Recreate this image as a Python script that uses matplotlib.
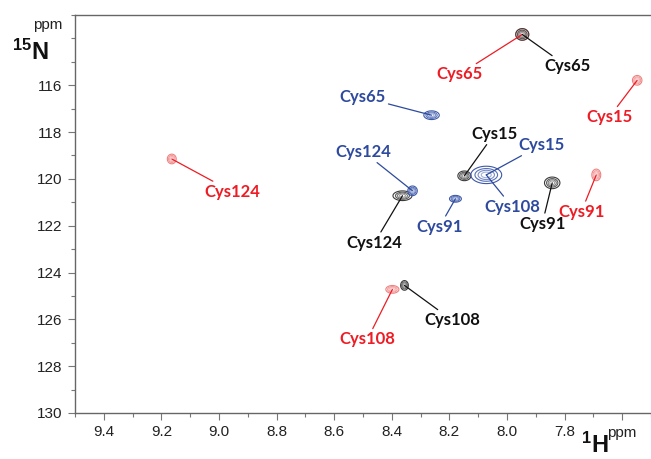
import numpy as np
import matplotlib
matplotlib.use("Agg")
import matplotlib.pyplot as plt

plt.rcParams["font.family"] = ["Liberation Sans", "DejaVu Sans"]
plt.rcParams["mathtext.fontset"] = "custom"
plt.rcParams["mathtext.bf"] = "Liberation Sans:bold"
plt.rcParams["mathtext.rm"] = "Liberation Sans"

# peak lists: 1H ppm, 15N ppm, half widths (ppm)
black_names = ["Cys65", "Cys15", "Cys124", "Cys91", "Cys108"]
black_h = [7.947, 8.148, 8.363, 7.843, 8.356]
black_n = [113.83, 119.87, 120.72, 120.17, 124.55]
black_wh = [0.011, 0.011, 0.016, 0.013, 0.0065]
black_wn = [0.12, 0.10, 0.10, 0.12, 0.10]

blue_names = ["Cys65", "Cys15", "Cys124", "Cys91", "Cys108"]
blue_h = [8.262, 8.072, 8.328, 8.179, 8.072]
blue_n = [117.28, 119.83, 120.51, 120.85, 119.83]
blue_wh = [0.013, 0.026, 0.008, 0.010, 0.026]
blue_wn = [0.09, 0.18, 0.10, 0.07, 0.18]

red_names = ["Cys65", "Cys15", "Cys124", "Cys91", "Cys108"]
red_h = [7.947, 7.548, 9.164, 7.690, 8.398]
red_n = [113.83, 115.79, 119.15, 119.83, 124.72]
red_wh = [0.011, 0.008, 0.0075, 0.0075, 0.011]
red_wn = [0.12, 0.10, 0.10, 0.12, 0.08]

x_ticks = [9.4, 9.2, 9.0, 8.8, 8.6, 8.4, 8.2, 8.0, 7.8, 7.6]
x_labels = ["9.4", "9.2", "9.0", "8.8", "8.6", "8.4", "8.2", "8.0", "7.8", "ppm"]
y_ticks = [116, 118, 120, 122, 124, 126, 128, 130]

# label offsets from the peak, in pixels (right, down)
offsets = {
    ("red", "Cys65"): (-63, 40), ("black", "Cys65"): (45, 32),
    ("red", "Cys15"): (-28, 37), ("blue", "Cys65"): (-69, -18),
    ("blue", "Cys124"): (-49, -39), ("black", "Cys124"): (-28, 47),
    ("blue", "Cys91"): (-16, 28), ("black", "Cys15"): (30, -42),
    ("blue", "Cys15"): (55, -30), ("blue", "Cys108"): (26, 32),
    ("black", "Cys91"): (-10, 41), ("red", "Cys91"): (-15, 37),
    ("red", "Cys124"): (61, 33), ("black", "Cys108"): (48, 35),
    ("red", "Cys108"): (-25, 50),
}

spectra = [
    ("red", red_names, red_h, red_n, red_wh, red_wn,
     ["#f08080", "#f29a9a", "#f4b0b0", "#f6c4c4"], "#ee1c24"),
    ("black", black_names, black_h, black_n, black_wh, black_wn,
     ["#3a3a3a", "#5a5a5a", "#7c7c7c", "#a0a0a0"], "#111111"),
    ("blue", blue_names, blue_h, blue_n, blue_wh, blue_wn,
     ["#3e58a8", "#5870b6", "#7a8ec6", "#a0b0d8"], "#2e4a9e"),
]

fig = plt.figure(figsize=(6.51, 4.59), dpi=100)
ax = fig.add_axes([75 / 651, 1 - 413 / 459, 1 - 75 / 651, 398 / 459])

hh = np.linspace(7.5, 9.5, 2001)
nn = np.linspace(113, 130, 1201)
H, N = np.meshgrid(hh, nn)
levels = [0.12, 0.32, 0.55, 0.8]

for key, names, ph, pn, wh, wn, ccols, tcol in spectra:
    Z = np.zeros_like(H)
    for h, n, sh, sn in zip(ph, pn, wh, wn):
        Z = np.maximum(Z, np.exp(-0.5 * ((H - h) / sh) ** 2 - 0.5 * ((N - n) / sn) ** 2))
    ax.contour(H, N, Z, levels=levels, colors=ccols, linewidths=0.8)
    for name, h, n in zip(names, ph, pn):
        dx, dy = offsets[(key, name)]
        ax.annotate(name, xy=(h, n), xytext=(dx, -dy), textcoords="offset pixels",
                    ha="center", va="center", color=tcol, fontsize=12,
                    fontweight="bold", family=["Lato", "DejaVu Sans"],
                    arrowprops=dict(arrowstyle="-", color=tcol, lw=0.9,
                                    shrinkA=0, shrinkB=0))

ax.set_xlim(9.5, 7.5)
ax.set_ylim(130, 113)
ax.set_xticks(x_ticks)
ax.set_xticklabels(x_labels)
ax.set_xticks(np.arange(7.5, 9.51, 0.1), minor=True)
ax.set_yticks(y_ticks)
ax.set_yticks(np.arange(113, 130.5, 1), minor=True)

for s in ["left", "top", "bottom"]:
    ax.spines[s].set_color("#666666")
    ax.spines[s].set_linewidth(1.0)
ax.spines["right"].set_visible(False)
ax.tick_params(which="major", length=5, width=0.8, color="#777777",
               labelsize=11, labelcolor="#222222", pad=4)
ax.tick_params(which="minor", length=3, width=0.8, color="#777777")

fig.text(62 / 651, 1 - 25 / 459, "ppm", ha="right", va="center",
         fontsize=11, color="#222222")
fig.text(12 / 651, 1 - 60 / 459, r"$\mathbf{^{15}N}$", ha="left", va="baseline",
         fontsize=17, color="#111111")
fig.text(581 / 651, 1 / 459, r"$\mathbf{^{1}H}$", ha="left", va="bottom",
         fontsize=17, color="#111111")

fig.savefig("out.png", dpi=100)
